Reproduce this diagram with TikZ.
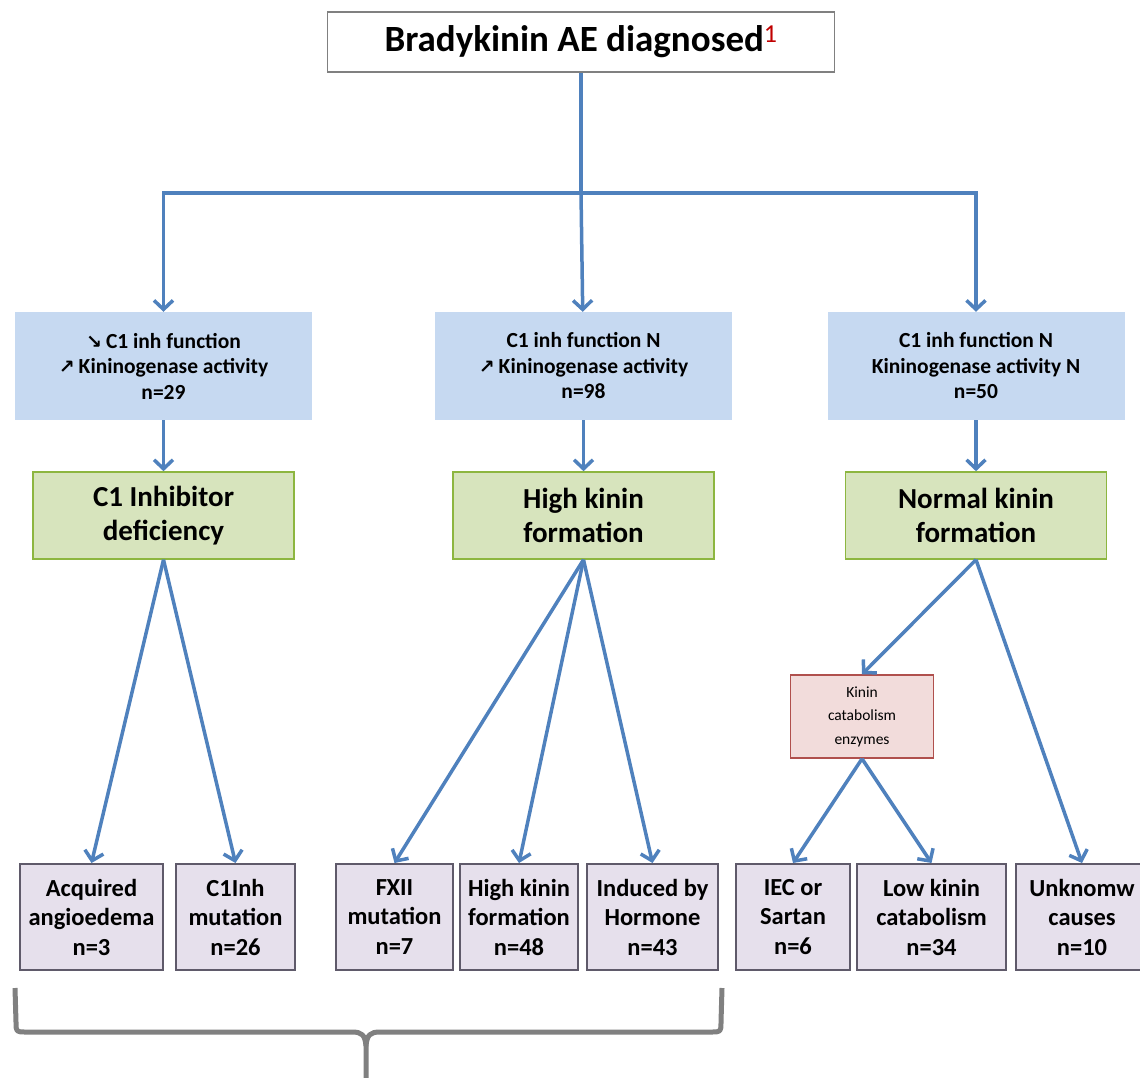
\documentclass[tikz,border=0pt]{standalone}
\usepackage{fontspec}
\setmainfont{Carlito}
\newfontfamily\symfont{DejaVu Sans}
\usepackage{xcolor}
\usetikzlibrary{arrows.meta,positioning}

\definecolor{lineblue}{HTML}{4F81BD}
\definecolor{testblue}{HTML}{C6D9F1}
\definecolor{diagfill}{HTML}{D7E4BD}
\definecolor{diagline}{HTML}{8DB640}
\definecolor{enzfill}{HTML}{F2DCDB}
\definecolor{enzline}{HTML}{B0504D}
\definecolor{causefill}{HTML}{E6E0EC}
\definecolor{causeline}{HTML}{5F5A6A}
\definecolor{noteref}{HTML}{C00000}
\newcommand{\trend}[1]{{\symfont\bfseries\fontsize{19}{19}\selectfont #1}\hspace{4pt}}

\begin{document}
\begin{tikzpicture}[x=1pt, y=-1pt, node distance=13pt,
    link/.style={draw=lineblue, line width=3.5pt, -{Straight Barb[length=9pt,width=19pt]}},
    trunk/.style={draw=lineblue, line width=3.5pt},
    headbox/.style={draw=gray, line width=1.5pt, fill=white, minimum width=507pt, minimum height=60pt,
        font=\fontsize{37}{42}\selectfont\bfseries},
    testbox/.style={fill=testblue, minimum width=297pt, minimum height=108pt, align=center,
        font=\fontsize{21.5}{25.5}\selectfont\bfseries},
    diagbox/.style={draw=diagline, line width=1.5pt, fill=diagfill, minimum width=261pt, minimum height=87pt,
        align=center, font=\fontsize{29}{34}\selectfont\bfseries},
    enzbox/.style={draw=enzline, line width=1.5pt, fill=enzfill, minimum width=143pt, minimum height=83pt,
        align=center, font=\fontsize{15.5}{23.5}\selectfont},
    causebox/.style={draw=causeline, line width=2pt, fill=causefill, minimum height=106pt, inner sep=1pt,
        align=center, font=\fontsize{24.5}{29.5}\selectfont\bfseries},
    brace/.style={draw=gray, line width=5pt, line join=round}]
    \useasboundingbox (0,0) rectangle (1140,1078);

    % top
    \node (diag) [headbox] at (581,42) {Bradykinin AE diagnosed\textsuperscript{\color{noteref}\mdseries 1}};
    \coordinate (split) at (581,193);

    % lab results
    \node (labA) [testbox] at (163.5,366) {\trend{↘}C1 inh function\\\trend{↗}Kininogenase activity\\n=29};
    \node (labB) [testbox] at (583.5,366) {C1 inh function N\\\trend{↗}Kininogenase activity\\n=98};
    \node (labC) [testbox] at (976,366) {C1 inh function N\\Kininogenase activity N\\n=50};

    % mechanisms
    \node (defic) [diagbox, below=51pt of labA] {C1 Inhibitor\\deficiency};
    \node (high) [diagbox, below=51pt of labB] {High kinin\\formation};
    \node (normal) [diagbox, below=51pt of labC] {Normal kinin\\formation};
    \node (enz) [enzbox] at (862,716.5) {Kinin\\catabolism\\enzymes};

    % causes
    \node (acq) [causebox, minimum width=143pt] at (91.5,917) {Acquired\\angioedema\\n=3};
    \node (c1mut) [causebox, minimum width=119pt, right=11pt of acq] {C1Inh\\mutation\\n=26};
    \node (fxii) [causebox, minimum width=117pt, right=39pt of c1mut] {FXII\\mutation\\n=7};
    \node (highf) [causebox, minimum width=118pt, right=5pt of fxii] {High kinin\\formation\\n=48};
    \node (horm) [causebox, minimum width=131pt, right=7pt of highf] {Induced by\\Hormone\\n=43};
    \node (iec) [causebox, minimum width=114pt, right=16pt of horm] {IEC or\\Sartan\\n=6};
    \node (lowcat) [causebox, minimum width=149pt, right=5pt of iec] {Low kinin\\catabolism\\n=34};
    \node (unk) [causebox, minimum width=132pt, right=8pt of lowcat] {Unknomw\\causes\\n=10};

    \draw[trunk] (diag) -- (split);
    \draw[link] (split) -| (labA);
    \draw[link] (split) -- (labB);
    \draw[link] (split) -| (labC);

    \draw[link] (labA) -- (defic);
    \draw[link] (labB) -- (high);
    \draw[link] (labC) -- (normal);

    \draw[link] (defic.south) -- (acq.north);
    \draw[link] (defic.south) -- (c1mut.north);
    \draw[link] (high.south) -- (fxii.north);
    \draw[link] (high.south) -- (highf.north);
    \draw[link] (high.south) -- (horm.north);
    \draw[link] (normal.south) -- (enz.north);
    \draw[link] (normal.south) -- (unk.north);
    \draw[link] (enz.south) -- (iec.north);
    \draw[link] (enz.south) -- (lowcat.north);

    % brace under the first five
    \draw[brace] (15,988) -- (16,1022) .. controls (16,1032) .. (26,1032) -- (352,1032)
        .. controls (362,1032) and (365,1035) .. (366,1046) -- (366,1078);
    \draw[brace] (722,988) -- (721,1022) .. controls (721,1032) .. (711,1032) -- (380,1032)
        .. controls (370,1032) and (367,1035) .. (366,1046);
\end{tikzpicture}
\end{document}
